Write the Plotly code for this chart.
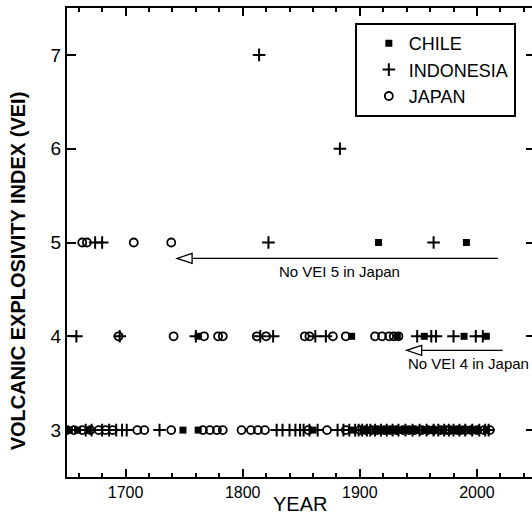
import plotly.graph_objects as go

# Eruption years by volcanic explosivity index (VEI), per country
chile_years = [1652, 1659, 1668, 1749, 1762, 1860, 1893, 1903, 1907, 1913, 1917, 1921,
               1927, 1932, 1937, 1943, 1948, 1955, 1960, 1965, 1971, 1979, 1984,
               1988, 1994, 2001, 2008,
               1762, 1893, 1932, 1955, 1989, 2008,
               1916, 1991]
chile_vei = [3] * 27 + [4] * 6 + [5] * 2

indo_years = [1666, 1671, 1680, 1686, 1692, 1697, 1701, 1729, 1829, 1834, 1840, 1845,
              1849, 1852, 1857, 1864, 1881, 1886, 1891, 1896, 1899, 1902, 1906, 1909,
              1913, 1918, 1923, 1928, 1933, 1939, 1945, 1951, 1957, 1963, 1967, 1972,
              1976, 1980, 1985, 1990, 1996, 2002, 2007, 2010,
              1658, 1695, 1760, 1815, 1826, 1862, 1871, 1949, 1961, 1965, 1980, 1999, 2005,
              1674, 1680, 1822, 1963,
              1883,
              1814]
indo_vei = [3] * 44 + [4] * 13 + [5] * 4 + [6] + [7]

japan_years = [1650, 1656, 1663, 1670, 1677, 1683, 1689, 1710, 1716, 1739, 1766, 1772,
               1778, 1783, 1799, 1807, 1813, 1819, 1856, 1872, 1888, 1900, 1905, 1910,
               1915, 1921, 1926, 1931, 1937, 1942, 1947, 1953, 1958, 1963, 1969, 1974,
               1977, 1983, 1986, 1990, 1995, 2000, 2006, 2011,
               1694, 1741, 1767, 1779, 1783, 1812, 1820, 1853, 1857, 1877, 1888,
               1913, 1919, 1925, 1929, 1933,
               1663, 1667, 1707, 1739]
japan_vei = [3] * 44 + [4] * 16 + [5] * 4

# Annotated arrows: (tail year, head year, VEI level) and label placement
arrow5 = dict(tail=2018, head=1744, level=4.83, text="No VEI 5 in Japan", tx=1883, ty=4.69)
arrow4 = dict(tail=2022, head=1940, level=3.85, text="No VEI 4 in Japan", tx=1939, ty=3.71)

x_range = [1650, 2047]
y_range = [2.5, 7.5]
FONT = "Liberation Sans, Arial, Helvetica, sans-serif"

fig = go.Figure()
fig.add_trace(go.Scatter(
    x=chile_years, y=chile_vei, mode="markers", name="CHILE",
    marker=dict(symbol="square", size=7, color="black", line=dict(width=0))))
fig.add_trace(go.Scatter(
    x=indo_years, y=indo_vei, mode="markers", name="INDONESIA",
    marker=dict(symbol="cross-thin-open", size=9, color="black",
                line=dict(width=2, color="black"))))
fig.add_trace(go.Scatter(
    x=japan_years, y=japan_vei, mode="markers", name="JAPAN",
    marker=dict(symbol="circle-open", size=8, color="black",
                line=dict(width=1.8, color="black"))))
# right-hand tick marks only (no right border line)
fig.add_trace(go.Scatter(x=[None], y=[None], yaxis="y2", showlegend=False, hoverinfo="skip"))

shapes = []
annotations = []
for a in (arrow5, arrow4):
    shapes.append(dict(type="line", xref="x", yref="y", x0=a["head"] + 1, x1=a["tail"],
                       y0=a["level"], y1=a["level"], line=dict(color="black", width=1.3)))
    shapes.append(dict(type="path", xref="x", yref="y", xsizemode="pixel", ysizemode="pixel",
                       xanchor=a["head"], yanchor=a["level"],
                       path="M 15 5 L 0 0 L 15 -5 Z",
                       line=dict(color="black", width=1.3), fillcolor="white"))
annotations.append(dict(x=arrow5["tx"], y=arrow5["ty"], xref="x", yref="y", text=arrow5["text"],
                        showarrow=False, xanchor="center", yanchor="middle",
                        font=dict(size=15, color="black", family=FONT)))
annotations.append(dict(x=arrow4["tx"], y=arrow4["ty"], xref="x", yref="y", text=arrow4["text"],
                        showarrow=False, xanchor="left", yanchor="middle",
                        font=dict(size=15, color="black", family=FONT)))
annotations.append(dict(x=-0.105, y=0.439, xref="paper", yref="paper",
                        xanchor="center", yanchor="middle",
                        text="<b>VOLCANIC EXPLOSIVITY INDEX (VEI)</b>", textangle=-90,
                        showarrow=False, font=dict(size=20, color="black", family=FONT)))
annotations.append(dict(x=0.5, y=-0.058, xref="paper", yref="paper", text="YEAR",
                        showarrow=False, xanchor="center", yanchor="middle",
                        font=dict(size=20, color="black", family=FONT)))
fig.update_layout(shapes=shapes, annotations=annotations)

fig.update_layout(
    width=532, height=514,
    margin=dict(l=67, r=0, t=8, b=37),
    plot_bgcolor="white", paper_bgcolor="white",
    font=dict(family=FONT, color="black", size=16),
    showlegend=True,
    legend=dict(x=0.619, y=0.968, xanchor="left", yanchor="top",
                bordercolor="black", borderwidth=2, bgcolor="white",
                font=dict(size=18, family=FONT), indentation=12),
    xaxis=dict(range=x_range, showgrid=False, zeroline=False,
               showline=True, linecolor="black", linewidth=2, mirror="ticks",
               ticks="inside", ticklen=8, tickwidth=2, tickcolor="black",
               tickvals=[1700, 1800, 1900, 2000],
               minor=dict(tickvals=[1660, 1680, 1720, 1740, 1760, 1780, 1820, 1840,
                                    1860, 1880, 1920, 1940, 1960, 1980, 2020, 2040],
                          ticks="inside", ticklen=4, tickwidth=2, tickcolor="black"),
               tickfont=dict(size=16)),
    yaxis=dict(range=y_range, showgrid=False, zeroline=False,
               showline=True, linecolor="black", linewidth=2, mirror=False,
               ticks="inside", ticklen=9, tickwidth=2, tickcolor="black",
               tickvals=[3, 4, 5, 6, 7], tickfont=dict(size=19)),
    yaxis2=dict(range=y_range, overlaying="y", side="right", showgrid=False,
                zeroline=False, showline=False, showticklabels=False,
                ticks="inside", ticklen=6, tickwidth=2, tickcolor="black",
                tickvals=[3, 4, 5, 6, 7]),
)

fig.write_html("out.html")
